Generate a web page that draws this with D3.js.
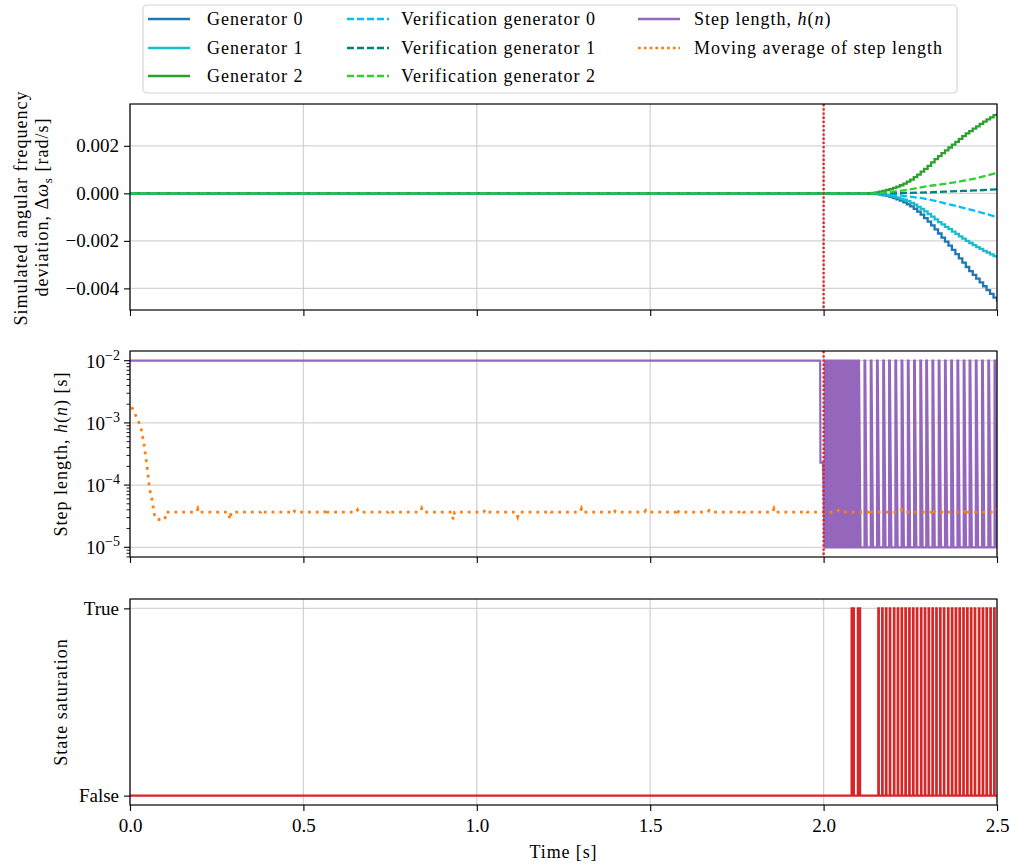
<!DOCTYPE html>
<html>
<head>
<meta charset="utf-8">
<script src="https://cdn.jsdelivr.net/npm/d3@7"></script>
<style>
  body { margin: 0; background: #fff; }
  text { font-family: "Liberation Serif", "Times New Roman", serif; fill: #000; }
</style>
</head>
<body>
<svg id="chart" width="1010" height="866"></svg>
<script>
// ---------------- data ----------------
// Generator speed deviations (rad/s), sampled every 10 ms after the disturbance
const genTimes = [0, 2.10, 2.11, 2.12, 2.13, 2.14, 2.15, 2.16, 2.17, 2.18, 2.19, 2.20,
  2.21, 2.22, 2.23, 2.24, 2.25, 2.26, 2.27, 2.28, 2.29, 2.30, 2.31, 2.32, 2.33, 2.34,
  2.35, 2.36, 2.37, 2.38, 2.39, 2.40, 2.41, 2.42, 2.43, 2.44, 2.45, 2.46, 2.47, 2.48,
  2.49, 2.50];
const gen0 = [0, 0, 0, 0, -0.00001, -0.00002, -0.00003, -0.00005, -0.00008, -0.00011,
  -0.00015, -0.00020, -0.00025, -0.00031, -0.00038, -0.00046, -0.00055, -0.00065,
  -0.00077, -0.00090, -0.00104, -0.00119, -0.00135, -0.00152, -0.00169, -0.00186,
  -0.00203, -0.00220, -0.00238, -0.00256, -0.00274, -0.00292, -0.00310, -0.00327,
  -0.00343, -0.00359, -0.00375, -0.00391, -0.00407, -0.00423, -0.00439, -0.00457];
const gen1 = [0, 0, 0, 0, -0.00001, -0.00001, -0.00002, -0.00004, -0.00006, -0.00008,
  -0.00011, -0.00014, -0.00018, -0.00022, -0.00027, -0.00033, -0.00040, -0.00048,
  -0.00057, -0.00066, -0.00076, -0.00087, -0.00098, -0.00110, -0.00121, -0.00131,
  -0.00141, -0.00151, -0.00161, -0.00171, -0.00181, -0.00191, -0.00200, -0.00209,
  -0.00218, -0.00226, -0.00234, -0.00242, -0.00249, -0.00257, -0.00264, -0.00273];
const gen2 = [0, 0, 0, 0, 0.00001, 0.00002, 0.00004, 0.00007, 0.00010, 0.00014,
  0.00018, 0.00023, 0.00028, 0.00034, 0.00041, 0.00049, 0.00058, 0.00068, 0.00079,
  0.00091, 0.00103, 0.00116, 0.00130, 0.00144, 0.00157, 0.00169, 0.00181, 0.00193,
  0.00205, 0.00217, 0.00229, 0.00241, 0.00252, 0.00262, 0.00272, 0.00282, 0.00292,
  0.00302, 0.00311, 0.00320, 0.00329, 0.00338];

// Verification model speed deviations (rad/s)
const verTimes = [0, 2.15, 2.20, 2.25, 2.30, 2.35, 2.40, 2.45, 2.50];
const ver0 = [0, 0, -0.00006, -0.00014, -0.00025, -0.00042, -0.00060, -0.00079, -0.00100];
const ver1 = [0, 0, 0.00001, 0.00002, 0.00004, 0.00007, 0.00010, 0.00013, 0.00017];
const ver2 = [0, 0, 0.00007, 0.00017, 0.00030, 0.00040, 0.00052, 0.00067, 0.00086];

// Step length h(n) [s]: steady part and transition
const stepT = [0, 1.990, 1.991, 1.998, 1.999, 2.001, 2.003];
const stepH = [1e-2, 1e-2, 2.3e-4, 2.3e-4, 1.6e-4, 4e-5, 1e-5];
const stepMax = 1e-2;
const stepMin = 1e-5;
// instants at which the solver returns to the maximum step
const stepSpikes = [2.004, 2.008, 2.012, 2.016, 2.020, 2.024, 2.028, 2.032, 2.036,
  2.040, 2.044, 2.048, 2.052, 2.056, 2.060, 2.064, 2.068, 2.072, 2.076, 2.080, 2.084,
  2.088, 2.092, 2.096, 2.100, 2.118, 2.136, 2.154, 2.172, 2.189, 2.207, 2.225, 2.243,
  2.261, 2.279, 2.296, 2.314, 2.332, 2.350, 2.368, 2.386, 2.404, 2.421, 2.439, 2.457,
  2.475, 2.493];

// Moving average of the step length
const maT = [0.005, 0.014, 0.024, 0.032, 0.040, 0.049, 0.056, 0.064, 0.070, 0.077, 0.101, 0.103];
const maV = [1.8e-3, 1.41e-3, 1.08e-3, 8.1e-4, 4.7e-4, 2.04e-4, 9.0e-5, 5.6e-5, 3.4e-5, 2.8e-5, 2.8e-5, 3.67e-5];
const maBase = 3.67e-5;
const maBumpT = [0.196, 0.288, 0.381, 0.472, 0.565, 0.656, 0.749, 0.841, 0.932, 1.024,
  1.118, 1.209, 1.302, 1.396, 1.487, 1.578, 1.670, 1.764, 1.857, 1.949, 2.042, 2.134,
  2.225, 2.316, 2.410, 2.499];
const maBumpV = [4.2e-5, 2.8e-5, 4.0e-5, 4.0e-5, 4.2e-5, 4.0e-5, 4.0e-5, 4.2e-5, 2.8e-5,
  4.0e-5, 3.1e-5, 3.9e-5, 4.2e-5, 4.0e-5, 3.9e-5, 4.2e-5, 3.9e-5, 4.0e-5, 4.2e-5,
  3.9e-5, 3.9e-5, 4.2e-5, 4.0e-5, 4.2e-5, 4.2e-5, 4.0e-5];

// State saturation pulses (on / off instants)
const satOn = [2.081, 2.099, 2.158, 2.169, 2.180, 2.191, 2.203, 2.214, 2.225, 2.236,
  2.247, 2.258, 2.269, 2.281, 2.292, 2.303, 2.314, 2.325, 2.336, 2.347, 2.359, 2.370,
  2.381, 2.392, 2.403, 2.414, 2.425, 2.436, 2.448, 2.459, 2.470, 2.481, 2.492];
const satOff = [2.087, 2.105, 2.159, 2.170, 2.181, 2.192, 2.204, 2.215, 2.226, 2.237,
  2.248, 2.259, 2.270, 2.282, 2.293, 2.304, 2.315, 2.326, 2.337, 2.348, 2.360, 2.371,
  2.382, 2.393, 2.404, 2.415, 2.426, 2.437, 2.449, 2.460, 2.471, 2.482, 2.493];

const eventTime = [2.0];

const xTicks = [0, 0.5, 1.0, 1.5, 2.0, 2.5];
const topTicks = [0.002, 0.000, -0.002, -0.004];
const midTicks = [1e-2, 1e-3, 1e-4, 1e-5];
const midExp = ["−2", "−3", "−4", "−5"];
const botTicks = [0, 1];
const botLabels = ["False", "True"];

// ---------------- layout ----------------
const svg = d3.select("#chart");
const L = 130, R = 997;
const panels = {
  top: { y0: 104, y1: 310 },
  mid: { y0: 351, y1: 557 },
  bot: { y0: 599, y1: 805 }
};
const x = d3.scaleLinear([0, 2.5], [L, R]);
const yTop = d3.scaleLinear([-0.00491, 0.00376], [panels.top.y1, panels.top.y0]);
const yMid = d3.scaleLog([Math.pow(10, -5.156), Math.pow(10, -1.844)], [panels.mid.y1, panels.mid.y0]);
const yBot = d3.scaleLinear([-0.05, 1.05], [panels.bot.y1, panels.bot.y0]);

const C = {
  gen0: "#1f77b4", gen1: "#17becf", gen2: "#2ca02c",
  ver0: "#00bfff", ver1: "#008080", ver2: "#32cd32",
  step: "#9467bd", ma: "#ff7f0e", sat: "#d62728", grid: "#d3d3d3"
};
const TICK_FONT = 19;

function clipFor(id, p) {
  svg.append("clipPath").attr("id", id).append("rect")
    .attr("x", L).attr("y", p.y0).attr("width", R - L).attr("height", p.y1 - p.y0);
}
clipFor("clipTop", panels.top);
clipFor("clipMid", panels.mid);
clipFor("clipBot", panels.bot);

// grid lines
function grid(p, yScale, yVals) {
  const g = svg.append("g");
  g.selectAll("line.gx").data(xTicks).join("line")
    .attr("x1", d => x(d)).attr("x2", d => x(d)).attr("y1", p.y0).attr("y2", p.y1)
    .attr("stroke", C.grid).attr("stroke-width", 1.3);
  g.selectAll("line.gy").data(yVals).join("line")
    .attr("x1", L).attr("x2", R).attr("y1", d => yScale(d)).attr("y2", d => yScale(d))
    .attr("stroke", C.grid).attr("stroke-width", 1.3);
}
grid(panels.top, yTop, topTicks);
grid(panels.mid, yMid, midTicks);
grid(panels.bot, yBot, botTicks);

// ---------------- top panel ----------------
const gTop = svg.append("g").attr("clip-path", "url(#clipTop)");
const stepLine = d3.line().x(d => x(d[0])).y(d => yTop(d[1])).curve(d3.curveStepAfter);
const smoothLine = d3.line().x(d => x(d[0])).y(d => yTop(d[1])).curve(d3.curveMonotoneX);
[[gen0, C.gen0], [gen1, C.gen1], [gen2, C.gen2]].forEach(([vals, col]) => {
  gTop.append("path").datum(genTimes.map((t, i) => [t, vals[i]]))
    .attr("d", stepLine).attr("fill", "none").attr("stroke", col).attr("stroke-width", 2.3);
});
[[ver0, C.ver0], [ver1, C.ver1], [ver2, C.ver2]].forEach(([vals, col]) => {
  gTop.append("path").datum(verTimes.map((t, i) => [t, vals[i]]))
    .attr("d", smoothLine).attr("fill", "none").attr("stroke", col).attr("stroke-width", 2.3)
    .attr("stroke-dasharray", "7,3");
});

// ---------------- middle panel ----------------
const gMid = svg.append("g").attr("clip-path", "url(#clipMid)");
const stepPts = stepT.map((t, i) => [t, stepH[i]]);
stepSpikes.forEach(s => {
  stepPts.push([s, stepMin], [s, stepMax], [s + 0.002, stepMax], [s + 0.0065, stepMin]);
});
stepPts.push([2.5, stepMin]);
const midLine = d3.line().x(d => x(d[0])).y(d => yMid(d[1]));
gMid.append("path").datum(stepPts).attr("d", midLine)
  .attr("fill", "none").attr("stroke", C.step).attr("stroke-width", 2.2).attr("stroke-linejoin", "miter");

const maPts = maT.map((t, i) => [t, maV[i]]);
maBumpT.forEach((t, i) => {
  maPts.push([t - 0.004, maBase], [t, maBumpV[i]], [t + 0.004, maBase]);
});
maPts.push([2.5, maBase]);
gMid.append("path").datum(maPts).attr("d", midLine)
  .attr("fill", "none").attr("stroke", C.ma).attr("stroke-width", 2.8)
  .attr("stroke-dasharray", "2.8,5");

// event marker across the first two panels
[[gTop, panels.top], [gMid, panels.mid]].forEach(([g, p]) => {
  g.selectAll(null).data(eventTime).join("line")
    .attr("x1", d => x(d)).attr("x2", d => x(d)).attr("y1", p.y0).attr("y2", p.y1)
    .attr("stroke", C.sat).attr("stroke-width", 2.3).attr("stroke-dasharray", "2.3,1.9");
});

// ---------------- bottom panel ----------------
const gBot = svg.append("g").attr("clip-path", "url(#clipBot)");
const satPts = [[0, 0]];
satOn.forEach((t, i) => {
  satPts.push([t, 0], [t, 1], [satOff[i], 1], [satOff[i], 0]);
});
satPts.push([2.5, 0]);
gBot.append("path").datum(satPts)
  .attr("d", d3.line().x(d => x(d[0])).y(d => yBot(d[1])))
  .attr("fill", "none").attr("stroke", C.sat).attr("stroke-width", 2.4);

// ---------------- axes ----------------
function xAxis(p, labels) {
  const ax = d3.axisBottom(x).tickValues(xTicks).tickSize(6).tickPadding(5)
    .tickFormat(labels ? d3.format(".1f") : () => "");
  const g = svg.append("g").attr("transform", `translate(0,${p.y1})`).call(ax);
  g.select(".domain").remove();
  g.selectAll(".tick line").attr("stroke", "#000").attr("stroke-width", 1.1);
  g.selectAll(".tick text").attr("font-size", TICK_FONT).attr("dy", "0.85em");
}
xAxis(panels.top, false);
xAxis(panels.mid, false);
xAxis(panels.bot, true);

// top y-axis
{
  const ax = d3.axisLeft(yTop).tickValues(topTicks).tickSize(6).tickPadding(5).tickFormat(d3.format(".3f"));
  const g = svg.append("g").attr("transform", `translate(${L},0)`).call(ax);
  g.select(".domain").remove();
  g.selectAll(".tick line").attr("stroke", "#000").attr("stroke-width", 1.1);
  g.selectAll(".tick text").attr("font-size", TICK_FONT);
}
// middle y-axis (log) with minor ticks
{
  const minor = [];
  for (let e = -6; e <= -2; e++) for (let m = 2; m <= 9; m++) {
    const v = m * Math.pow(10, e);
    const [a, b] = yMid.domain();
    if (v > a && v < b) minor.push(v);
  }
  const g = svg.append("g");
  g.selectAll("line.minor").data(minor).join("line")
    .attr("x1", L - 3.5).attr("x2", L).attr("y1", d => yMid(d)).attr("y2", d => yMid(d))
    .attr("stroke", "#000").attr("stroke-width", 0.9);
  g.selectAll("line.major").data(midTicks).join("line")
    .attr("x1", L - 6).attr("x2", L).attr("y1", d => yMid(d)).attr("y2", d => yMid(d))
    .attr("stroke", "#000").attr("stroke-width", 1.1);
  const lab = g.selectAll("text.lab").data(midTicks).join("text")
    .attr("x", L - 10).attr("y", d => yMid(d) + 7).attr("text-anchor", "end")
    .attr("font-size", TICK_FONT);
  lab.append("tspan").text("10");
  lab.append("tspan").attr("dy", -8).attr("font-size", 14).text((d, i) => midExp[i]);
}
// bottom y-axis
{
  const ax = d3.axisLeft(yBot).tickValues(botTicks).tickSize(6).tickPadding(5)
    .tickFormat((d, i) => botLabels[i]);
  const g = svg.append("g").attr("transform", `translate(${L},0)`).call(ax);
  g.select(".domain").remove();
  g.selectAll(".tick line").attr("stroke", "#000").attr("stroke-width", 1.1);
  g.selectAll(".tick text").attr("font-size", TICK_FONT);
}

// spines
Object.values(panels).forEach(p => {
  svg.append("rect").attr("x", L).attr("y", p.y0).attr("width", R - L).attr("height", p.y1 - p.y0)
    .attr("fill", "none").attr("stroke", "#000").attr("stroke-width", 1.2);
});

// ---------------- labels ----------------
function rich(sel, parts) {
  parts.forEach(pt => {
    const ts = sel.append("tspan").text(pt.t);
    if (pt.i) ts.attr("font-style", "italic");
    if (pt.sub) ts.attr("dy", 4).attr("font-size", 13);
    if (pt.after) ts.attr("dy", -4);
  });
  return sel;
}
function yLabel(xPos, yPos, parts) {
  const t = svg.append("text").attr("transform", `translate(${xPos},${yPos}) rotate(-90)`)
    .attr("text-anchor", "middle").attr("font-size", 18).attr("letter-spacing", 1.0);
  rich(t, parts);
}
yLabel(27, 208, [{ t: "Simulated angular frequency" }]);
yLabel(48, 207, [{ t: "deviation, Δ" }, { t: "ω", i: true }, { t: "s", sub: true }, { t: " [rad/s]", after: true }]);
yLabel(67, 454, [{ t: "Step length, " }, { t: "h", i: true }, { t: "(" }, { t: "n", i: true }, { t: ") [s]" }]);
yLabel(67, 702, [{ t: "State saturation" }]);

svg.append("text").attr("x", (L + R) / 2).attr("y", 858).attr("text-anchor", "middle")
  .attr("font-size", 18).attr("letter-spacing", 0.9).text("Time [s]");

// ---------------- legend ----------------
const legend = svg.append("g");
legend.append("rect").attr("x", 143).attr("y", 5).attr("width", 814).attr("height", 88)
  .attr("rx", 4).attr("fill", "#fff").attr("stroke", "#d6d6d6").attr("stroke-width", 1.2);
const items = [
  { col: 0, row: 0, c: C.gen0, dash: null, parts: [{ t: "Generator 0" }] },
  { col: 0, row: 1, c: C.gen1, dash: null, parts: [{ t: "Generator 1" }] },
  { col: 0, row: 2, c: C.gen2, dash: null, parts: [{ t: "Generator 2" }] },
  { col: 1, row: 0, c: C.ver0, dash: "7,3", parts: [{ t: "Verification generator 0" }] },
  { col: 1, row: 1, c: C.ver1, dash: "7,3", parts: [{ t: "Verification generator 1" }] },
  { col: 1, row: 2, c: C.ver2, dash: "7,3", parts: [{ t: "Verification generator 2" }] },
  { col: 2, row: 0, c: C.step, dash: null, parts: [{ t: "Step length, " }, { t: "h", i: true }, { t: "(" }, { t: "n", i: true }, { t: ")" }] },
  { col: 2, row: 1, c: C.ma, dash: "2.8,3", parts: [{ t: "Moving average of step length" }] }
];
const colX = [148, 347, 638];
const colTextX = [207, 401, 694];
const rowY = [19, 48, 76];
items.forEach(it => {
  const x0 = colX[it.col], y0 = rowY[it.row];
  const ln = legend.append("line").attr("x1", x0).attr("x2", x0 + 42).attr("y1", y0).attr("y2", y0)
    .attr("stroke", it.c).attr("stroke-width", 2.6);
  if (it.dash) ln.attr("stroke-dasharray", it.dash);
  const t = legend.append("text").attr("x", colTextX[it.col]).attr("y", y0 + 6)
    .attr("font-size", 18).attr("letter-spacing", 1.0);
  rich(t, it.parts);
});
</script>
</body>
</html>
